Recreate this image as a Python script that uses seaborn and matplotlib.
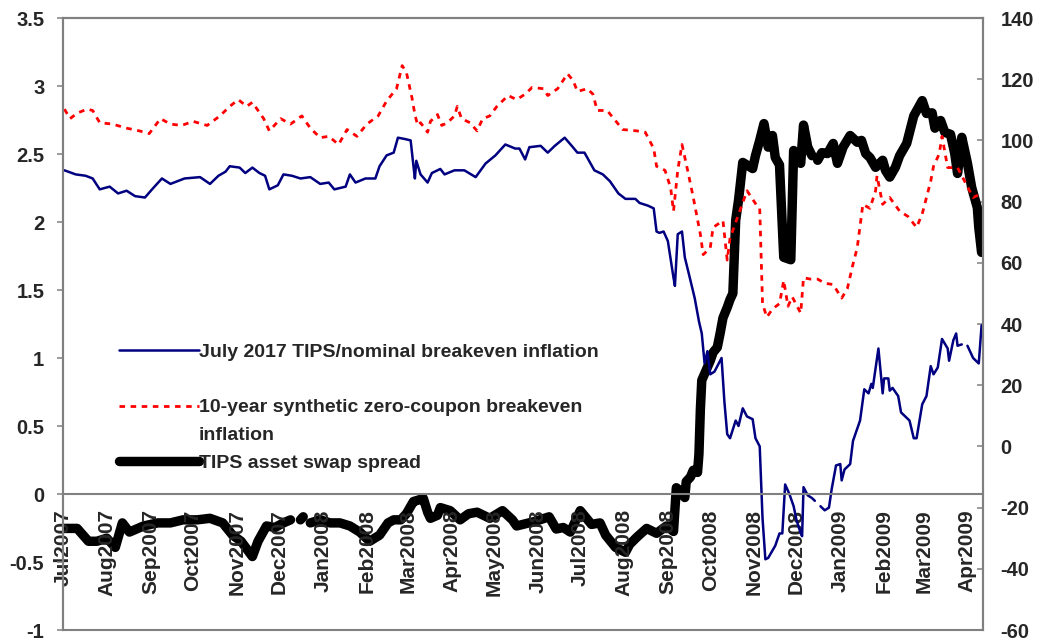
import numpy as np
import pandas as pd
import matplotlib
matplotlib.use("Agg")
import matplotlib.pyplot as plt
import matplotlib.dates as mdates
from matplotlib.lines import Line2D
import seaborn as sns

sns.set_style("white")
plt.rcParams["font.family"] = ["Liberation Sans", "DejaVu Sans"]
plt.rcParams["font.weight"] = "bold"

nan = np.nan

# July 2017 TIPS/nominal breakeven inflation (left axis, %)
blue_dates = [
    "2007-07-02", "2007-07-10", "2007-07-17", "2007-07-22", "2007-07-27", "2007-08-03", "2007-08-09",
    "2007-08-15", "2007-08-21", "2007-08-28", "2007-09-02", "2007-09-09", "2007-09-15", "2007-09-20",
    "2007-09-25", "2007-10-06", "2007-10-13", "2007-10-19", "2007-10-24", "2007-10-27", "2007-11-03",
    "2007-11-07", "2007-11-12", "2007-11-17", "2007-11-21", "2007-11-24", "2007-11-30", "2007-12-04",
    "2007-12-10", "2007-12-16", "2007-12-23", "2007-12-30", "2008-01-05", "2008-01-09", "2008-01-17",
    "2008-01-20", "2008-01-24", "2008-01-31", "2008-02-07", "2008-02-10", "2008-02-15", "2008-02-20",
    "2008-02-23", "2008-02-28", "2008-03-03", "2008-03-05", "2008-03-06", "2008-03-07", "2008-03-10",
    "2008-03-15", "2008-03-18", "2008-03-24", "2008-03-27", "2008-04-03", "2008-04-10", "2008-04-18",
    "2008-04-25", "2008-05-02", "2008-05-09", "2008-05-16", "2008-05-19", "2008-05-23", "2008-05-26",
    "2008-06-03", "2008-06-08", "2008-06-13", "2008-06-20", "2008-06-25", "2008-06-29", "2008-07-04",
    "2008-07-11", "2008-07-17", "2008-07-22", "2008-07-28", "2008-08-02", "2008-08-09", "2008-08-12",
    "2008-08-18", "2008-08-22", "2008-08-24", "2008-08-26", "2008-08-29", "2008-09-01", "2008-09-05",
    "2008-09-06", "2008-09-08", "2008-09-11", "2008-09-13", "2008-09-17", "2008-09-20", "2008-09-23",
    "2008-09-25", "2008-09-27", "2008-09-29", "2008-10-01", "2008-10-04", "2008-10-09", "2008-10-11",
    "2008-10-13", "2008-10-15", "2008-10-19", "2008-10-21", "2008-10-24", "2008-10-27", "2008-10-31",
    "2008-11-02", "2008-11-05", "2008-11-07", "2008-11-09", "2008-11-11", "2008-11-16", "2008-11-19",
    "2008-11-21", "2008-11-23", "2008-11-26", "2008-11-29", "2008-12-01", "2008-12-04", "2008-12-05",
    "2008-12-06", "2008-12-09", "2008-12-12", "2008-12-14", "2008-12-16", "2008-12-18", "2008-12-21",
    "2008-12-24", "2008-12-26", "2008-12-29", "2009-01-01", "2009-01-02", "2009-01-04", "2009-01-08",
    "2009-01-10", "2009-01-15", "2009-01-18", "2009-01-21", "2009-01-23", "2009-01-24", "2009-01-28",
    "2009-01-31", "2009-02-01", "2009-02-04", "2009-02-05", "2009-02-07", "2009-02-11", "2009-02-13",
    "2009-02-16", "2009-02-19", "2009-02-22", "2009-02-24", "2009-02-28", "2009-03-03", "2009-03-06",
    "2009-03-08", "2009-03-11", "2009-03-14", "2009-03-18", "2009-03-19", "2009-03-22", "2009-03-24",
    "2009-03-25", "2009-03-28", "2009-03-30", "2009-04-01", "2009-04-05", "2009-04-09", "2009-04-11",
]
blue_vals = [
    2.38, 2.35, 2.34, 2.32, 2.24, 2.26, 2.21,
    2.23, 2.19, 2.18, 2.24, 2.32, 2.28, 2.30,
    2.32, 2.33, 2.28, 2.34, 2.37, 2.41, 2.40,
    2.36, 2.40, 2.36, 2.34, 2.24, 2.27, 2.35,
    2.34, 2.32, 2.33, 2.28, 2.29, 2.24, 2.26,
    2.35, 2.29, 2.32, 2.32, 2.41, 2.49, 2.51,
    2.62, 2.61, 2.60, 2.41, 2.32, 2.45, 2.35,
    2.29, 2.36, 2.39, 2.35, 2.38, 2.38, 2.33,
    2.43, 2.49, 2.57, 2.54, 2.54, 2.46, 2.55,
    2.56, 2.51, 2.56, 2.62, 2.56, 2.51, 2.51,
    2.38, 2.35, 2.30, 2.21, 2.17, 2.17, 2.14,
    2.12, 2.10, 1.93, 1.92, 1.93, 1.86, 1.59,
    1.53, 1.91, 1.93, 1.74, 1.57, 1.44, 1.27,
    1.18, 0.96, 1.05, 0.88, 0.90, 1.00, 0.68,
    0.44, 0.41, 0.54, 0.50, 0.63, 0.57, 0.55,
    0.41, 0.35, -0.18, -0.48, -0.47, -0.38, -0.29,
    -0.29, 0.07, 0.00, -0.09, -0.19, -0.29, -0.31,
    0.05, -0.01, -0.03, -0.05, nan, -0.09, -0.12,
    -0.10, 0.04, 0.21, 0.22, 0.10, 0.18, 0.22,
    0.39, 0.54, 0.77, 0.74, 0.81, 0.78, 1.07,
    0.74, 0.85, 0.85, 0.76, 0.78, 0.72, 0.60,
    0.57, 0.54, 0.41, 0.41, 0.66, 0.72, 0.94,
    0.88, 0.93, 1.14, 1.07, 0.98, 1.13, 1.18,
    1.09, 1.10, nan, 1.09, 1.00, 0.96, 1.24,
]

# 10-year synthetic zero-coupon breakeven inflation (left axis, %)
red_dates = [
    "2007-07-02", "2007-07-06", "2007-07-11", "2007-07-18", "2007-07-22", "2007-07-27", "2007-08-05",
    "2007-08-15", "2007-08-24", "2007-08-31", "2007-09-08", "2007-09-15", "2007-09-23", "2007-10-01",
    "2007-10-11", "2007-10-20", "2007-10-27", "2007-11-02", "2007-11-08", "2007-11-12", "2007-11-20",
    "2007-11-24", "2007-12-02", "2007-12-09", "2007-12-17", "2007-12-23", "2007-12-30", "2008-01-05",
    "2008-01-12", "2008-01-18", "2008-01-25", "2008-02-01", "2008-02-09", "2008-02-15", "2008-02-22",
    "2008-02-26", "2008-02-29", "2008-03-04", "2008-03-06", "2008-03-08", "2008-03-10", "2008-03-15",
    "2008-03-17", "2008-03-22", "2008-03-25", "2008-03-29", "2008-04-03", "2008-04-05", "2008-04-08",
    "2008-04-14", "2008-04-19", "2008-04-23", "2008-04-28", "2008-05-03", "2008-05-07", "2008-05-11",
    "2008-05-17", "2008-05-23", "2008-05-28", "2008-06-05", "2008-06-08", "2008-06-15", "2008-06-22",
    "2008-06-26", "2008-06-29", "2008-07-06", "2008-07-10", "2008-07-13", "2008-07-20", "2008-07-24",
    "2008-07-31", "2008-08-10", "2008-08-16", "2008-08-22", "2008-08-24", "2008-08-30", "2008-09-03",
    "2008-09-05", "2008-09-08", "2008-09-11", "2008-09-15", "2008-09-19", "2008-09-24", "2008-09-26",
    "2008-10-01", "2008-10-03", "2008-10-10", "2008-10-13", "2008-10-15", "2008-10-27", "2008-11-03",
    "2008-11-05", "2008-11-07", "2008-11-10", "2008-11-14", "2008-11-19", "2008-11-22", "2008-11-25",
    "2008-11-28", "2008-12-04", "2008-12-06", "2008-12-11", "2008-12-16", "2008-12-21", "2008-12-27",
    "2009-01-02", "2009-01-06", "2009-01-10", "2009-01-13", "2009-01-17", "2009-01-22", "2009-01-26",
    "2009-01-27", "2009-01-31", "2009-02-05", "2009-02-12", "2009-02-18", "2009-02-24", "2009-02-28",
    "2009-03-06", "2009-03-08", "2009-03-12", "2009-03-14", "2009-03-18", "2009-03-25", "2009-03-29",
    "2009-04-05", "2009-04-11",
]
red_vals = [
    2.83, 2.76, 2.80, 2.83, 2.82, 2.73, 2.72,
    2.69, 2.67, 2.65, 2.76, 2.72, 2.71, 2.74,
    2.71, 2.78, 2.85, 2.90, 2.85, 2.88, 2.76,
    2.67, 2.76, 2.72, 2.78, 2.69, 2.62, 2.63,
    2.57, 2.68, 2.63, 2.72, 2.78, 2.89, 2.98,
    3.15, 3.10, 2.91, 2.79, 2.71, 2.73, 2.66,
    2.74, 2.79, 2.71, 2.73, 2.78, 2.85, 2.76,
    2.73, 2.67, 2.76, 2.78, 2.85, 2.89, 2.93,
    2.90, 2.94, 2.99, 2.98, 2.93, 2.98, 3.09,
    3.04, 2.96, 2.98, 2.94, 2.82, 2.82, 2.77,
    2.68, 2.67, 2.66, 2.54, 2.41, 2.38, 2.25,
    2.08, 2.38, 2.57, 2.38, 2.18, 1.91, 1.76,
    1.81, 1.96, 2.01, 1.72, 1.88, 2.23, 2.12,
    2.10, 1.40, 1.30, 1.36, 1.40, 1.57, 1.38,
    1.45, 1.33, 1.59, 1.58, 1.58, 1.55, 1.54,
    1.44, 1.51, 1.69, 1.81, 2.13, 2.10, 2.23,
    2.34, 2.13, 2.18, 2.08, 2.04, 1.96, 2.06,
    2.30, 2.41, 2.50, 2.63, 2.40, 2.40, 2.32,
    2.18, 2.21,
]

# TIPS asset swap spread (right axis, bp)
black_dates = [
    "2007-07-02", "2007-07-11", "2007-07-19", "2007-07-25", "2007-08-01", "2007-08-07", "2007-08-12",
    "2007-08-17", "2007-08-27", "2007-09-06", "2007-09-15", "2007-09-24", "2007-10-04", "2007-10-13",
    "2007-10-22", "2007-10-29", "2007-11-04", "2007-11-12", "2007-11-16", "2007-11-22", "2007-11-28",
    "2007-12-04", "2007-12-09", "2007-12-13", "2007-12-16", "2007-12-18", "2007-12-20", "2007-12-23",
    "2007-12-30", "2008-01-06", "2008-01-13", "2008-01-20", "2008-01-27", "2008-02-03", "2008-02-10",
    "2008-02-16", "2008-02-20", "2008-02-25", "2008-02-29", "2008-03-05", "2008-03-08", "2008-03-12",
    "2008-03-15", "2008-03-17", "2008-03-22", "2008-03-24", "2008-03-31", "2008-04-07", "2008-04-13",
    "2008-04-19", "2008-04-28", "2008-05-07", "2008-05-14", "2008-05-17", "2008-05-30", "2008-06-09",
    "2008-06-14", "2008-06-19", "2008-06-24", "2008-07-01", "2008-07-09", "2008-07-15", "2008-07-19",
    "2008-07-26", "2008-08-02", "2008-08-05", "2008-08-10", "2008-08-17", "2008-08-24", "2008-08-31",
    "2008-09-05", "2008-09-07", "2008-09-10", "2008-09-13", "2008-09-14", "2008-09-17", "2008-09-19",
    "2008-09-22", "2008-09-23", "2008-09-24", "2008-09-25", "2008-09-28", "2008-10-01", "2008-10-03",
    "2008-10-06", "2008-10-08", "2008-10-10", "2008-10-13", "2008-10-15", "2008-10-17", "2008-10-19",
    "2008-10-21", "2008-10-24", "2008-10-31", "2008-11-02", "2008-11-05", "2008-11-08", "2008-11-11",
    "2008-11-14", "2008-11-16", "2008-11-19", "2008-11-22", "2008-11-27", "2008-11-29", "2008-12-04",
    "2008-12-06", "2008-12-09", "2008-12-12", "2008-12-14", "2008-12-16", "2008-12-19", "2008-12-23",
    "2008-12-27", "2008-12-30", "2009-01-03", "2009-01-08", "2009-01-13", "2009-01-16", "2009-01-19",
    "2009-01-22", "2009-01-26", "2009-01-31", "2009-02-02", "2009-02-05", "2009-02-09", "2009-02-12",
    "2009-02-17", "2009-02-22", "2009-02-28", "2009-03-03", "2009-03-07", "2009-03-09", "2009-03-13",
    "2009-03-16", "2009-03-20", "2009-03-23", "2009-03-25", "2009-03-28", "2009-04-01", "2009-04-04",
    "2009-04-08", "2009-04-09", "2009-04-11",
]
black_vals = [
    -26.8, -26.8, -31, -31, -30, -33, -25,
    -28, -26, -25, -25, -24, -24, -23.5,
    -25, -29, -31, -36, -31, -26, -26.5,
    -25, -24, nan, -24, -23, nan, -25,
    -24, -25, -25, -26, -28, -31, -29,
    -25, -24, -24, -22, -18, -17.6, -17,
    -21.5, -23.5, -22.5, -20, -21, -24, -22,
    -21.5, -23.5, -21, -24, -26, -24.5, -23,
    -27, -26.5, -28, -21, -25.5, -25, -29,
    -33, -34.6, -32, -29.7, -26.8, -28.4, -26,
    -27.8, -13.5, -14.7, -16.7, -11.5, -10, -7.8,
    -8.5, -2.5, 12, 21.6, 24.8, 28, 30.7,
    32.4, 37, 42, 45.4, 48, 50, 73.9,
    80.4, 92.8, 90.8, 95, 100, 105.5, 97.8,
    101.6, 94.4, 92, 61.8, 61, 96.7, 92.5,
    105, 97.8, 95, nan, 93.5, 96, 95.7,
    99, 92.5, 97.8, 101.6, 99.4, 100, 95.7,
    94.4, 91.2, 93.5, 90.2, 88, 91.2, 95,
    99, 108, 113, 108.8, 109, 104, 106.5,
    102.6, 102, 95.7, 89.2, 101, 92.5, 84.6,
    78, 71.6, 63.4,
]

left_ticks = [-1, -0.5, 0, 0.5, 1, 1.5, 2, 2.5, 3, 3.5]
right_ticks = [-60, -40, -20, 0, 20, 40, 60, 80, 100, 120, 140]

labels = ["July 2017 TIPS/nominal breakeven inflation", " ",
          "10-year synthetic zero-coupon breakeven", "inflation",
          "TIPS asset swap spread"]

grey = "#808080"
navy = "#000080"
red_dash = (0, (2.0, 2.0))


def to_frame(dates, vals):
    df = pd.DataFrame({"date": pd.to_datetime(dates), "value": vals})
    # break the line wherever a value is missing
    df["seg"] = df["value"].isna().cumsum()
    return df.dropna()


fig = plt.figure(figsize=(10.43, 6.40), dpi=100)
ax = fig.add_axes([63 / 1043, 10 / 640, 920 / 1043, 612 / 640])
ax2 = ax.twinx()
ax.set_zorder(ax2.get_zorder() + 1)
ax.patch.set_visible(False)

sns.lineplot(data=to_frame(black_dates, black_vals), x="date", y="value", units="seg",
             estimator=None, color="black", linewidth=6.8, solid_capstyle="round",
             solid_joinstyle="round", ax=ax2)
sns.lineplot(data=to_frame(red_dates, red_vals), x="date", y="value", units="seg",
             estimator=None, color="#ff0000", linewidth=2.0, linestyle=red_dash, ax=ax)
sns.lineplot(data=to_frame(blue_dates, blue_vals), x="date", y="value", units="seg",
             estimator=None, color=navy, linewidth=1.8, ax=ax)

ax.set_xlim(pd.Timestamp("2007-07-01"), pd.Timestamp("2009-04-12"))
ax.set_ylim(-1, 3.5)
ax2.set_ylim(-60, 140)
for a in (ax, ax2):
    a.set_xlabel("")
    a.set_ylabel("")

ax.set_yticks(left_ticks, labels=[f"{t:g}" for t in left_ticks])
ax2.set_yticks(right_ticks, labels=[str(t) for t in right_ticks])
ax.xaxis.set_major_locator(mdates.MonthLocator())
ax.xaxis.set_major_formatter(mdates.DateFormatter("%b%Y"))

# x axis sits on the zero line, frame in grey
ax.spines["bottom"].set_position(("data", 0))
for a in (ax, ax2):
    for s in a.spines.values():
        s.set_color(grey)
        s.set_linewidth(1.5)

ax.tick_params(axis="x", rotation=90, labelsize=15, length=4, width=1.1, color=grey,
               pad=7, direction="out")
ax.tick_params(axis="y", labelsize=14.5, length=4.5, width=1.1, color=grey, pad=9,
               direction="out")
ax2.tick_params(axis="y", labelsize=14.5, length=4.5, width=1.1, color=grey, pad=12.5,
                direction="in")

handles = [
    Line2D([], [], color=navy, lw=1.8),
    Line2D([], [], color="none"),
    Line2D([], [], color="#ff0000", lw=2.0, ls=red_dash),
    Line2D([], [], color="none"),
    Line2D([], [], color="black", lw=6.8, solid_capstyle="round"),
]
ax.legend(handles, labels, loc="upper left", bbox_to_anchor=((119 - 63) / 920, 0.469),
          frameon=False, borderpad=0, borderaxespad=0, handlelength=4.1,
          handletextpad=0.0, labelspacing=0.53, prop={"weight": "bold", "size": 14})

fig.savefig("out.png", dpi=100)
